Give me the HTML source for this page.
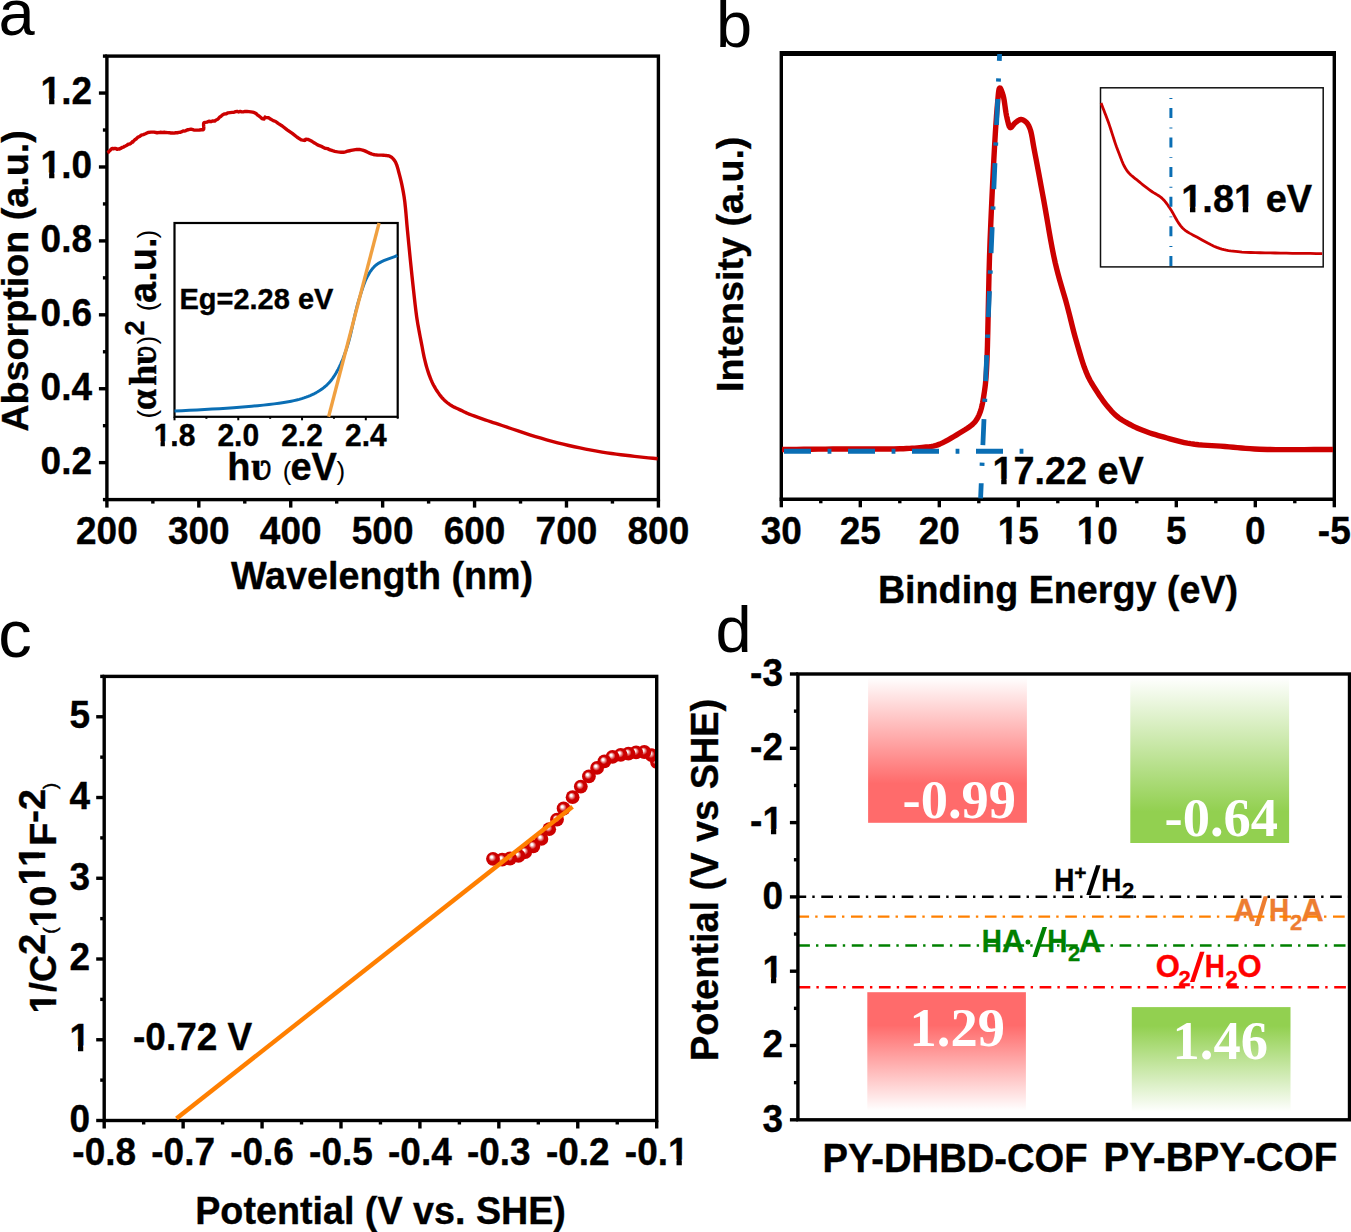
<!DOCTYPE html>
<html><head><meta charset="utf-8"><style>html,body{margin:0;padding:0;background:#fff;overflow:hidden}svg{display:block}</style></head>
<body><svg width="1351" height="1232" viewBox="0 0 1351 1232">
<rect width="1351" height="1232" fill="#fff"/>
<text x="-1.4" y="35" font-size="65" font-weight="normal" text-anchor="start" fill="#000" font-family='"Liberation Sans", sans-serif' >a</text>
<line x1="106.9" y1="499.6" x2="106.9" y2="507.6" stroke="#000" stroke-width="3.4" />
<line x1="152.86" y1="499.6" x2="152.86" y2="503.6" stroke="#000" stroke-width="3.4" />
<line x1="198.82" y1="499.6" x2="198.82" y2="507.6" stroke="#000" stroke-width="3.4" />
<line x1="244.78" y1="499.6" x2="244.78" y2="503.6" stroke="#000" stroke-width="3.4" />
<line x1="290.73" y1="499.6" x2="290.73" y2="507.6" stroke="#000" stroke-width="3.4" />
<line x1="336.69" y1="499.6" x2="336.69" y2="503.6" stroke="#000" stroke-width="3.4" />
<line x1="382.65" y1="499.6" x2="382.65" y2="507.6" stroke="#000" stroke-width="3.4" />
<line x1="428.61" y1="499.6" x2="428.61" y2="503.6" stroke="#000" stroke-width="3.4" />
<line x1="474.57" y1="499.6" x2="474.57" y2="507.6" stroke="#000" stroke-width="3.4" />
<line x1="520.52" y1="499.6" x2="520.52" y2="503.6" stroke="#000" stroke-width="3.4" />
<line x1="566.48" y1="499.6" x2="566.48" y2="507.6" stroke="#000" stroke-width="3.4" />
<line x1="612.44" y1="499.6" x2="612.44" y2="503.6" stroke="#000" stroke-width="3.4" />
<line x1="658.4" y1="499.6" x2="658.4" y2="507.6" stroke="#000" stroke-width="3.4" />
<line x1="102.9" y1="499.6" x2="106.9" y2="499.6" stroke="#000" stroke-width="3.4" />
<line x1="98.9" y1="462.64" x2="106.9" y2="462.64" stroke="#000" stroke-width="3.4" />
<line x1="102.9" y1="425.68" x2="106.9" y2="425.68" stroke="#000" stroke-width="3.4" />
<line x1="98.9" y1="388.73" x2="106.9" y2="388.73" stroke="#000" stroke-width="3.4" />
<line x1="102.9" y1="351.77" x2="106.9" y2="351.77" stroke="#000" stroke-width="3.4" />
<line x1="98.9" y1="314.81" x2="106.9" y2="314.81" stroke="#000" stroke-width="3.4" />
<line x1="102.9" y1="277.85" x2="106.9" y2="277.85" stroke="#000" stroke-width="3.4" />
<line x1="98.9" y1="240.89" x2="106.9" y2="240.89" stroke="#000" stroke-width="3.4" />
<line x1="102.9" y1="203.93" x2="106.9" y2="203.93" stroke="#000" stroke-width="3.4" />
<line x1="98.9" y1="166.98" x2="106.9" y2="166.98" stroke="#000" stroke-width="3.4" />
<line x1="102.9" y1="130.02" x2="106.9" y2="130.02" stroke="#000" stroke-width="3.4" />
<line x1="98.9" y1="93.06" x2="106.9" y2="93.06" stroke="#000" stroke-width="3.4" />
<line x1="102.9" y1="56.1" x2="106.9" y2="56.1" stroke="#000" stroke-width="3.4" />
<rect x="106.9" y="56.1" width="551.5" height="443.5" fill="none" stroke="#000" stroke-width="3.4"/>
<text x="106.9" y="544" font-size="37" font-weight="bold" text-anchor="middle" fill="#000" font-family='"Liberation Sans", sans-serif' transform="matrix(1 0 0 1.045 0 -24.48)" stroke="#000" stroke-width="0.35" >200</text>
<text x="198.82" y="544" font-size="37" font-weight="bold" text-anchor="middle" fill="#000" font-family='"Liberation Sans", sans-serif' transform="matrix(1 0 0 1.045 0 -24.48)" stroke="#000" stroke-width="0.35" >300</text>
<text x="290.73" y="544" font-size="37" font-weight="bold" text-anchor="middle" fill="#000" font-family='"Liberation Sans", sans-serif' transform="matrix(1 0 0 1.045 0 -24.48)" stroke="#000" stroke-width="0.35" >400</text>
<text x="382.65" y="544" font-size="37" font-weight="bold" text-anchor="middle" fill="#000" font-family='"Liberation Sans", sans-serif' transform="matrix(1 0 0 1.045 0 -24.48)" stroke="#000" stroke-width="0.35" >500</text>
<text x="474.57" y="544" font-size="37" font-weight="bold" text-anchor="middle" fill="#000" font-family='"Liberation Sans", sans-serif' transform="matrix(1 0 0 1.045 0 -24.48)" stroke="#000" stroke-width="0.35" >600</text>
<text x="566.48" y="544" font-size="37" font-weight="bold" text-anchor="middle" fill="#000" font-family='"Liberation Sans", sans-serif' transform="matrix(1 0 0 1.045 0 -24.48)" stroke="#000" stroke-width="0.35" >700</text>
<text x="658.4" y="544" font-size="37" font-weight="bold" text-anchor="middle" fill="#000" font-family='"Liberation Sans", sans-serif' transform="matrix(1 0 0 1.045 0 -24.48)" stroke="#000" stroke-width="0.35" >800</text>
<text x="92" y="473.64" font-size="37" font-weight="bold" text-anchor="end" fill="#000" font-family='"Liberation Sans", sans-serif' transform="matrix(1 0 0 1.045 0 -21.31)" stroke="#000" stroke-width="0.35" >0.2</text>
<text x="92" y="399.73" font-size="37" font-weight="bold" text-anchor="end" fill="#000" font-family='"Liberation Sans", sans-serif' transform="matrix(1 0 0 1.045 0 -17.99)" stroke="#000" stroke-width="0.35" >0.4</text>
<text x="92" y="325.81" font-size="37" font-weight="bold" text-anchor="end" fill="#000" font-family='"Liberation Sans", sans-serif' transform="matrix(1 0 0 1.045 0 -14.66)" stroke="#000" stroke-width="0.35" >0.6</text>
<text x="92" y="251.89" font-size="37" font-weight="bold" text-anchor="end" fill="#000" font-family='"Liberation Sans", sans-serif' transform="matrix(1 0 0 1.045 0 -11.34)" stroke="#000" stroke-width="0.35" >0.8</text>
<text x="92" y="177.98" font-size="37" font-weight="bold" text-anchor="end" fill="#000" font-family='"Liberation Sans", sans-serif' transform="matrix(1 0 0 1.045 0 -8.01)" stroke="#000" stroke-width="0.35" >1.0</text>
<text x="92" y="104.06" font-size="37" font-weight="bold" text-anchor="end" fill="#000" font-family='"Liberation Sans", sans-serif' transform="matrix(1 0 0 1.045 0 -4.68)" stroke="#000" stroke-width="0.35" >1.2</text>
<text x="382" y="589.3" font-size="37.7" font-weight="bold" text-anchor="middle" fill="#000" font-family='"Liberation Sans", sans-serif' transform="matrix(1 0 0 1.045 0 -26.52)" stroke="#000" stroke-width="0.35" >Wavelength (nm)</text>
<text transform="translate(28.1 281) rotate(-90)" x="0" y="0" font-size="37.7" font-weight="bold" stroke="#000" stroke-width="0.35" text-anchor="middle" font-family='"Liberation Sans", sans-serif'>Absorption (a.u.)</text>
<path d="M107.4 152.86 L108.18 152.37 L108.93 151.39 L109.68 150.78 L110.46 150.04 L111.29 148.88 L112.2 148.36 L113.29 148.87 L114.5 148.35 L115.77 148.46 L117.05 149.29 L118.28 148.89 L119.4 149.1 L120.26 148.51 L121.05 148.31 L121.81 147.46 L122.56 147.45 L123.35 147.19 L124.2 146.42 L125.44 146.03 L126.82 145.34 L128.26 144.14 L129.65 144.1 L130.93 143.27 L132 142.32 L132.56 141.61 L133 141.89 L133.38 141.07 L133.77 140.81 L134.22 140.45 L134.8 139.79 L136.1 138.97 L137.66 137.36 L139.42 136.56 L141.33 135.11 L143.34 134.56 L145.4 133.74 L148.04 132.45 L150.97 132.16 L154.04 132.09 L157.11 132.75 L160.04 132.32 L162.7 132.51 L164.48 132.26 L166.14 132.56 L167.73 132.6 L169.28 132.7 L170.82 132.99 L172.4 132.98 L174.03 133.15 L175.68 132.78 L177.32 132.77 L178.94 132.43 L180.51 132.26 L182 131.65 L183.16 130.89 L184.23 131.15 L185.26 130.86 L186.31 130.44 L187.44 129.81 L188.7 129.69 L190.97 129.18 L193.69 129.98 L196.57 130.08 L199.32 130.04 L201.62 129.74 L203.2 129.82 L203.7 129.09 L203.8 127.13 L203.69 126.47 L203.58 124.81 L203.65 123.4 L204.1 122.61 L205.28 122.35 L206.94 122.12 L208.9 121.25 L210.96 121.69 L212.96 120.97 L214.7 121.1 L216.08 119.97 L217.34 119.49 L218.53 118.49 L219.73 116.96 L220.99 116.39 L222.4 114.93 L224.16 113.99 L226.07 113.86 L228.07 112.85 L230.1 112.59 L232.1 112.43 L234 112.3 L235.59 111.65 L237.14 111.37 L238.65 111.97 L240.17 111.38 L241.71 111.91 L243.3 111.86 L245.12 111.4 L247.01 111.49 L248.92 111.61 L250.82 111.9 L252.66 112.17 L254.4 112.65 L256.07 113.6 L257.74 115.18 L259.35 116.21 L260.85 117.47 L262.19 118.71 L263.3 118.66 L263.73 118.62 L264.07 118.96 L264.36 118.2 L264.67 117.87 L265.03 117.1 L265.5 117.32 L266.95 117.65 L268.78 117.8 L270.91 119.36 L273.23 120.63 L275.66 121.51 L278.1 123.41 L282.26 125.98 L287.16 129.79 L292.3 133.41 L297.16 137.29 L301.23 139.91 L304 140.27 L304.48 140.2 L304.84 140.48 L305.12 140.39 L305.4 139.4 L305.74 139.3 L306.2 139.28 L307.79 139.34 L309.88 140.31 L312.3 141.61 L314.89 143.19 L317.51 144.87 L320 145.82 L322.46 146.92 L325 148.3 L327.56 148.62 L330.09 149.94 L332.52 150.71 L334.8 151.3 L336.43 151.64 L338.02 151.91 L339.55 152.1 L341.02 152.21 L342.41 152.25 L343.7 152.2 L344.56 152.09 L345.33 151.92 L346.06 151.7 L346.79 151.45 L347.56 151.22 L348.4 151 L349.66 150.72 L351.04 150.4 L352.49 150.09 L353.95 149.82 L355.37 149.61 L356.7 149.5 L357.72 149.48 L358.68 149.5 L359.62 149.56 L360.56 149.68 L361.54 149.86 L362.6 150.1 L364.21 150.63 L365.92 151.39 L367.71 152.26 L369.56 153.14 L371.43 153.92 L373.3 154.5 L375.26 154.84 L377.33 155.03 L379.43 155.11 L381.47 155.16 L383.39 155.23 L385.1 155.4 L386.14 155.54 L387.1 155.65 L388.01 155.78 L388.86 155.95 L389.69 156.21 L390.5 156.6 L391.38 157.17 L392.22 157.86 L393.03 158.65 L393.79 159.54 L394.52 160.53 L395.2 161.6 L396.05 163.26 L396.79 165.14 L397.45 167.2 L398.07 169.4 L398.67 171.71 L399.3 174.1 L400.16 177.42 L401.02 180.97 L401.86 184.71 L402.66 188.62 L403.41 192.66 L404.1 196.8 L404.82 202.01 L405.41 207.46 L405.94 213.11 L406.43 218.92 L406.94 224.86 L407.5 230.9 L408.21 238.08 L408.94 245.55 L409.68 253.19 L410.44 260.9 L411.22 268.54 L412 276 L412.77 283.21 L413.58 290.67 L414.39 298.06 L415.2 305.11 L415.97 311.52 L416.7 317 L417.08 319.58 L417.44 321.85 L417.79 323.91 L418.15 325.88 L418.51 327.88 L418.9 330 L419.34 332.39 L419.79 334.81 L420.26 337.25 L420.74 339.7 L421.22 342.16 L421.7 344.6 L422.17 347.04 L422.62 349.5 L423.08 351.95 L423.56 354.4 L424.06 356.82 L424.6 359.2 L425.15 361.46 L425.73 363.71 L426.33 365.94 L426.95 368.13 L427.61 370.29 L428.3 372.4 L428.97 374.32 L429.65 376.22 L430.37 378.08 L431.11 379.9 L431.89 381.68 L432.7 383.4 L433.48 384.94 L434.29 386.44 L435.13 387.91 L435.99 389.34 L436.88 390.73 L437.8 392.1 L438.7 393.39 L439.61 394.66 L440.55 395.9 L441.53 397.11 L442.54 398.28 L443.6 399.4 L444.71 400.48 L445.85 401.52 L447.04 402.52 L448.27 403.48 L449.56 404.4 L450.9 405.3 L452.5 406.25 L454.21 407.15 L455.98 408 L457.77 408.82 L459.53 409.62 L461.2 410.4 L462.55 411.05 L463.83 411.67 L465.08 412.27 L466.35 412.87 L467.71 413.47 L469.2 414.1 L471.51 415.01 L474.03 415.96 L476.71 416.92 L479.48 417.89 L482.26 418.85 L485 419.8 L487.74 420.74 L490.43 421.65 L493.15 422.55 L495.95 423.47 L498.91 424.44 L502.1 425.5 L507.02 427.16 L512.4 429.01 L518.09 430.95 L523.94 432.92 L529.79 434.83 L535.5 436.6 L541.03 438.23 L546.57 439.8 L552.12 441.32 L557.67 442.78 L563.23 444.17 L568.8 445.5 L574.37 446.76 L579.98 447.96 L585.61 449.1 L591.2 450.18 L596.71 451.18 L602.1 452.1 L606.88 452.85 L611.58 453.52 L616.2 454.13 L620.79 454.7 L625.38 455.25 L630 455.8 L634.61 456.34 L639.21 456.85 L643.81 457.34 L648.4 457.82 L653 458.31 L657.6 458.8" fill="none" stroke="#cc0000" stroke-width="3.4" stroke-linejoin="round"/>
<line x1="174.5" y1="416.8" x2="174.5" y2="420.3" stroke="#000" stroke-width="2" />
<line x1="206.39" y1="416.8" x2="206.39" y2="418.8" stroke="#000" stroke-width="2" />
<line x1="238.27" y1="416.8" x2="238.27" y2="420.3" stroke="#000" stroke-width="2" />
<line x1="270.16" y1="416.8" x2="270.16" y2="418.8" stroke="#000" stroke-width="2" />
<line x1="302.04" y1="416.8" x2="302.04" y2="420.3" stroke="#000" stroke-width="2" />
<line x1="333.93" y1="416.8" x2="333.93" y2="418.8" stroke="#000" stroke-width="2" />
<line x1="365.81" y1="416.8" x2="365.81" y2="420.3" stroke="#000" stroke-width="2" />
<line x1="397.7" y1="416.8" x2="397.7" y2="418.8" stroke="#000" stroke-width="2" />
<rect x="174.5" y="223" width="223.2" height="193.8" fill="#fff" stroke="#000" stroke-width="2.2"/>
<text x="174.5" y="446" font-size="30" font-weight="bold" text-anchor="middle" fill="#000" font-family='"Liberation Sans", sans-serif' transform="matrix(1 0 0 1.045 0 -20.07)" stroke="#000" stroke-width="0.35" >1.8</text>
<text x="238.27" y="446" font-size="30" font-weight="bold" text-anchor="middle" fill="#000" font-family='"Liberation Sans", sans-serif' transform="matrix(1 0 0 1.045 0 -20.07)" stroke="#000" stroke-width="0.35" >2.0</text>
<text x="302.04" y="446" font-size="30" font-weight="bold" text-anchor="middle" fill="#000" font-family='"Liberation Sans", sans-serif' transform="matrix(1 0 0 1.045 0 -20.07)" stroke="#000" stroke-width="0.35" >2.2</text>
<text x="365.81" y="446" font-size="30" font-weight="bold" text-anchor="middle" fill="#000" font-family='"Liberation Sans", sans-serif' transform="matrix(1 0 0 1.045 0 -20.07)" stroke="#000" stroke-width="0.35" >2.4</text>
<path d="M174.5 411.1 L181.94 410.69 L189.46 410.29 L197.01 409.91 L204.54 409.51 L212.01 409.11 L219.38 408.68 L226.59 408.21 L233.6 407.7 L239.67 407.22 L245.74 406.73 L251.76 406.22 L257.66 405.68 L263.39 405.12 L268.9 404.52 L274.12 403.88 L279 403.2 L282.27 402.7 L285.37 402.21 L288.34 401.71 L291.19 401.19 L293.95 400.63 L296.62 400.03 L299.23 399.35 L301.8 398.6 L303.98 397.9 L306.1 397.16 L308.18 396.38 L310.19 395.57 L312.16 394.7 L314.06 393.79 L315.91 392.82 L317.7 391.8 L319.29 390.82 L320.83 389.8 L322.32 388.75 L323.76 387.65 L325.16 386.5 L326.51 385.29 L327.83 384.03 L329.1 382.7 L330.39 381.23 L331.63 379.69 L332.8 378.09 L333.93 376.43 L335.03 374.71 L336.1 372.91 L337.15 371.04 L338.2 369.1 L339.45 366.64 L340.65 364.09 L341.81 361.45 L342.94 358.7 L344.04 355.83 L345.13 352.83 L346.22 349.69 L347.3 346.4 L348.78 341.4 L350.21 335.84 L351.61 329.92 L352.99 323.79 L354.36 317.65 L355.75 311.67 L357.16 306.03 L358.6 300.9 L359.69 297.32 L360.75 293.83 L361.81 290.46 L362.89 287.21 L364 284.12 L365.16 281.19 L366.38 278.44 L367.7 275.9 L368.7 274.16 L369.68 272.54 L370.67 271.02 L371.71 269.59 L372.81 268.24 L374.01 266.95 L375.33 265.71 L376.8 264.5 L378.87 263.1 L381.21 261.85 L383.74 260.71 L386.41 259.65 L389.16 258.63 L391.94 257.62 L394.67 256.59 L397.3 255.5" fill="none" stroke="#0a6eb4" stroke-width="3" stroke-linejoin="round"/>
<line x1="328.6" y1="416.8" x2="379.1" y2="223" stroke="#f0a040" stroke-width="3.4" />
<text x="179.5" y="308.9" font-size="29" font-weight="bold" text-anchor="start" fill="#000" font-family='"Liberation Sans", sans-serif' transform="matrix(1 0 0 1.045 0 -13.9)" stroke="#000" stroke-width="0.35" >Eg=2.28 eV</text>
<text y="479.6" font-size="38" font-weight="bold" stroke="#000" stroke-width="0.35" font-family='"Liberation Sans", sans-serif'><tspan x="227.3">h</tspan><tspan x="251" font-family='"Liberation Serif", serif' font-size="40">&#x28b;</tspan><tspan x="282.7" font-weight="normal" stroke-width="0" font-size="26">(</tspan><tspan x="290.4">eV</tspan><tspan x="336.6" font-weight="normal" stroke-width="0" font-size="26">)</tspan></text>
<text transform="translate(156 417.5) rotate(-90)" y="0" font-size="38" font-weight="bold" stroke="#000" stroke-width="0.35" font-family='"Liberation Sans", sans-serif'><tspan x="-1" font-weight="normal" stroke-width="0" font-size="26">(</tspan><tspan x="7.3" font-family='"Liberation Serif", serif'>&#945;</tspan><tspan x="31.7" font-family='"Liberation Serif", serif'>h</tspan><tspan x="52.2" font-family='"Liberation Serif", serif'>&#x28b;</tspan><tspan x="73.1" font-weight="normal" stroke-width="0" font-size="26">)</tspan><tspan x="81.9" dy="-12.1" font-size="27">2</tspan><tspan x="106.2" dy="12.1" font-weight="normal" stroke-width="0" font-size="26">(</tspan><tspan x="114.5">a.u.</tspan><tspan x="178.9" font-weight="normal" stroke-width="0" font-size="26">)</tspan></text>
<text x="715.9" y="46.9" font-size="65" font-weight="normal" text-anchor="start" fill="#000" font-family='"Liberation Sans", sans-serif' >b</text>
<line x1="781.3" y1="499.3" x2="781.3" y2="507.3" stroke="#000" stroke-width="3.4" />
<line x1="820.8" y1="499.3" x2="820.8" y2="503.3" stroke="#000" stroke-width="3.4" />
<line x1="860.3" y1="499.3" x2="860.3" y2="507.3" stroke="#000" stroke-width="3.4" />
<line x1="899.8" y1="499.3" x2="899.8" y2="503.3" stroke="#000" stroke-width="3.4" />
<line x1="939.3" y1="499.3" x2="939.3" y2="507.3" stroke="#000" stroke-width="3.4" />
<line x1="978.8" y1="499.3" x2="978.8" y2="503.3" stroke="#000" stroke-width="3.4" />
<line x1="1018.3" y1="499.3" x2="1018.3" y2="507.3" stroke="#000" stroke-width="3.4" />
<line x1="1057.8" y1="499.3" x2="1057.8" y2="503.3" stroke="#000" stroke-width="3.4" />
<line x1="1097.3" y1="499.3" x2="1097.3" y2="507.3" stroke="#000" stroke-width="3.4" />
<line x1="1136.8" y1="499.3" x2="1136.8" y2="503.3" stroke="#000" stroke-width="3.4" />
<line x1="1176.3" y1="499.3" x2="1176.3" y2="507.3" stroke="#000" stroke-width="3.4" />
<line x1="1215.8" y1="499.3" x2="1215.8" y2="503.3" stroke="#000" stroke-width="3.4" />
<line x1="1255.3" y1="499.3" x2="1255.3" y2="507.3" stroke="#000" stroke-width="3.4" />
<line x1="1294.8" y1="499.3" x2="1294.8" y2="503.3" stroke="#000" stroke-width="3.4" />
<line x1="1334.3" y1="499.3" x2="1334.3" y2="507.3" stroke="#000" stroke-width="3.4" />
<line x1="781.3" y1="53.5" x2="1334.3" y2="53.5" stroke="#000" stroke-width="5.2" />
<line x1="781.3" y1="50.9" x2="781.3" y2="499.3" stroke="#000" stroke-width="3.4" />
<line x1="1334.3" y1="50.9" x2="1334.3" y2="501" stroke="#000" stroke-width="3.4" />
<line x1="779.6" y1="499.3" x2="1336" y2="499.3" stroke="#000" stroke-width="3.4" />
<text x="781.3" y="544" font-size="37" font-weight="bold" text-anchor="middle" fill="#000" font-family='"Liberation Sans", sans-serif' transform="matrix(1 0 0 1.045 0 -24.48)" stroke="#000" stroke-width="0.35" >30</text>
<text x="860.3" y="544" font-size="37" font-weight="bold" text-anchor="middle" fill="#000" font-family='"Liberation Sans", sans-serif' transform="matrix(1 0 0 1.045 0 -24.48)" stroke="#000" stroke-width="0.35" >25</text>
<text x="939.3" y="544" font-size="37" font-weight="bold" text-anchor="middle" fill="#000" font-family='"Liberation Sans", sans-serif' transform="matrix(1 0 0 1.045 0 -24.48)" stroke="#000" stroke-width="0.35" >20</text>
<text x="1018.3" y="544" font-size="37" font-weight="bold" text-anchor="middle" fill="#000" font-family='"Liberation Sans", sans-serif' transform="matrix(1 0 0 1.045 0 -24.48)" stroke="#000" stroke-width="0.35" >15</text>
<text x="1097.3" y="544" font-size="37" font-weight="bold" text-anchor="middle" fill="#000" font-family='"Liberation Sans", sans-serif' transform="matrix(1 0 0 1.045 0 -24.48)" stroke="#000" stroke-width="0.35" >10</text>
<text x="1176.3" y="544" font-size="37" font-weight="bold" text-anchor="middle" fill="#000" font-family='"Liberation Sans", sans-serif' transform="matrix(1 0 0 1.045 0 -24.48)" stroke="#000" stroke-width="0.35" >5</text>
<text x="1255.3" y="544" font-size="37" font-weight="bold" text-anchor="middle" fill="#000" font-family='"Liberation Sans", sans-serif' transform="matrix(1 0 0 1.045 0 -24.48)" stroke="#000" stroke-width="0.35" >0</text>
<text x="1334.3" y="544" font-size="37" font-weight="bold" text-anchor="middle" fill="#000" font-family='"Liberation Sans", sans-serif' transform="matrix(1 0 0 1.045 0 -24.48)" stroke="#000" stroke-width="0.35" >-5</text>
<text x="1058" y="602.5" font-size="37.7" font-weight="bold" text-anchor="middle" fill="#000" font-family='"Liberation Sans", sans-serif' transform="matrix(1 0 0 1.045 0 -27.11)" stroke="#000" stroke-width="0.35" >Binding Energy (eV)</text>
<text transform="translate(742.9 264.3) rotate(-90)" x="0" y="0" font-size="37.7" font-weight="bold" stroke="#000" stroke-width="0.35" text-anchor="middle" font-family='"Liberation Sans", sans-serif'>Intensity (a.u.)</text>
<path d="M782 449.5 L789.24 449.44 L796.48 449.37 L803.71 449.3 L810.94 449.23 L818.18 449.17 L825.43 449.1 L832.7 449.05 L840 449 L847.65 448.98 L855.61 448.99 L863.71 449.02 L871.77 449.04 L879.6 449.05 L887.03 449.03 L893.89 448.95 L900 448.8 L903.33 448.68 L906.42 448.55 L909.32 448.41 L912.06 448.26 L914.69 448.08 L917.23 447.88 L919.72 447.66 L922.2 447.4 L924.18 447.2 L926.07 447.04 L927.89 446.87 L929.67 446.69 L931.44 446.44 L933.23 446.12 L935.07 445.68 L937 445.1 L939.65 444.1 L942.43 442.86 L945.3 441.43 L948.21 439.85 L951.1 438.2 L953.93 436.52 L956.65 434.87 L959.2 433.3 L961.28 432.03 L963.35 430.78 L965.38 429.54 L967.34 428.28 L969.21 427 L970.96 425.69 L972.57 424.32 L974 422.9 L975.02 421.72 L975.93 420.55 L976.75 419.36 L977.48 418.14 L978.16 416.87 L978.79 415.53 L979.4 414.12 L980 412.6 L980.76 410.39 L981.44 407.98 L982.05 405.42 L982.6 402.75 L983.1 400 L983.56 397.24 L983.99 394.49 L984.4 391.8 L984.78 389.23 L985.1 386.83 L985.38 384.48 L985.62 382.09 L985.84 379.55 L986.06 376.76 L986.27 373.61 L986.5 370 L987.03 358.98 L987.47 345.22 L987.85 329.34 L988.21 311.96 L988.59 293.72 L989 275.22 L989.5 257.11 L990.1 240 L990.84 222.37 L991.69 203.41 L992.61 183.91 L993.57 164.63 L994.56 146.33 L995.55 129.78 L996.5 115.75 L997.4 105 L997.69 101.85 L997.94 98.8 L998.18 95.93 L998.43 93.36 L998.7 91.17 L999 89.46 L999.37 88.34 L999.8 87.9 L1000.14 88.04 L1000.53 88.52 L1000.94 89.27 L1001.36 90.23 L1001.79 91.35 L1002.22 92.56 L1002.62 93.79 L1003 95 L1003.58 97.29 L1004.11 100.03 L1004.58 103.07 L1005.04 106.28 L1005.49 109.52 L1005.95 112.64 L1006.45 115.51 L1007 118 L1007.38 119.54 L1007.75 121.14 L1008.12 122.72 L1008.5 124.21 L1008.91 125.53 L1009.35 126.6 L1009.85 127.35 L1010.4 127.7 L1010.89 127.63 L1011.41 127.27 L1011.95 126.69 L1012.52 125.96 L1013.12 125.16 L1013.73 124.35 L1014.36 123.6 L1015 123 L1015.68 122.45 L1016.4 121.88 L1017.14 121.3 L1017.89 120.76 L1018.66 120.28 L1019.42 119.88 L1020.17 119.62 L1020.9 119.5 L1021.56 119.53 L1022.23 119.68 L1022.9 119.91 L1023.57 120.23 L1024.22 120.61 L1024.84 121.04 L1025.44 121.51 L1026 122 L1026.6 122.6 L1027.15 123.25 L1027.66 123.95 L1028.14 124.72 L1028.6 125.56 L1029.04 126.46 L1029.47 127.44 L1029.9 128.5 L1030.58 130.5 L1031.17 132.74 L1031.7 135.21 L1032.19 137.87 L1032.67 140.71 L1033.17 143.69 L1033.7 146.8 L1034.3 150 L1035.3 155.17 L1036.38 160.79 L1037.51 166.79 L1038.69 173.08 L1039.9 179.58 L1041.13 186.21 L1042.37 192.87 L1043.6 199.5 L1044.98 207.17 L1046.37 215.17 L1047.77 223.39 L1049.19 231.69 L1050.65 239.94 L1052.14 248.03 L1053.69 255.83 L1055.3 263.2 L1056.7 268.97 L1058.16 274.54 L1059.67 279.96 L1061.2 285.24 L1062.74 290.42 L1064.24 295.52 L1065.71 300.57 L1067.1 305.6 L1068.27 310.07 L1069.38 314.45 L1070.46 318.76 L1071.51 323.02 L1072.57 327.25 L1073.65 331.48 L1074.79 335.72 L1076 340 L1077.29 344.45 L1078.6 349.02 L1079.95 353.63 L1081.33 358.22 L1082.76 362.71 L1084.24 367.05 L1085.79 371.17 L1087.4 375 L1088.72 377.79 L1090.11 380.45 L1091.53 382.99 L1092.99 385.43 L1094.46 387.77 L1095.93 390.04 L1097.38 392.25 L1098.8 394.4 L1099.96 396.15 L1101.1 397.83 L1102.23 399.47 L1103.37 401.05 L1104.5 402.59 L1105.65 404.09 L1106.81 405.56 L1108 407 L1109.1 408.3 L1110.19 409.56 L1111.28 410.8 L1112.39 412 L1113.52 413.17 L1114.69 414.31 L1115.92 415.42 L1117.2 416.5 L1118.64 417.62 L1120.15 418.69 L1121.71 419.73 L1123.32 420.74 L1124.96 421.71 L1126.63 422.66 L1128.31 423.59 L1130 424.5 L1131.74 425.41 L1133.49 426.29 L1135.25 427.13 L1137.04 427.95 L1138.87 428.76 L1140.75 429.55 L1142.69 430.32 L1144.7 431.1 L1147.24 432.03 L1149.9 432.94 L1152.66 433.83 L1155.48 434.7 L1158.36 435.56 L1161.25 436.39 L1164.14 437.21 L1167 438 L1169.88 438.8 L1172.73 439.59 L1175.58 440.37 L1178.45 441.13 L1181.36 441.85 L1184.34 442.52 L1187.41 443.14 L1190.6 443.7 L1194.57 444.26 L1198.72 444.71 L1203 445.07 L1207.37 445.38 L1211.8 445.65 L1216.24 445.91 L1220.65 446.18 L1225 446.5 L1229.22 446.86 L1233.32 447.23 L1237.36 447.61 L1241.44 447.98 L1245.61 448.34 L1249.96 448.67 L1254.57 448.96 L1259.5 449.2 L1267.37 449.44 L1275.94 449.58 L1285.05 449.63 L1294.53 449.62 L1304.23 449.58 L1313.98 449.53 L1323.62 449.49 L1333 449.5" fill="none" stroke="#cc0000" stroke-width="5.4" stroke-linejoin="round"/>
<line x1="784" y1="451.2" x2="1024" y2="451.2" stroke="#0a6eb4" stroke-width="5" stroke-dasharray="27 16.6 3.8 16.6"/>
<line x1="980.6" y1="498.4" x2="999.6" y2="54" stroke="#0a6eb4" stroke-width="4.8" stroke-dasharray="26 17.4 3.3 17.4" stroke-dashoffset="10.84"/>
<text x="992.5" y="484.4" font-size="37.8" font-weight="bold" text-anchor="start" fill="#000" font-family='"Liberation Sans", sans-serif' transform="matrix(1 0 0 1.045 0 -21.8)" stroke="#000" stroke-width="0.35" >17.22 eV</text>
<rect x="1100.5" y="87.8" width="222.7" height="179.1" fill="#fff" stroke="#111" stroke-width="1.5"/>
<path d="M1101.1 103.1 L1102.02 105.51 L1102.94 107.89 L1103.86 110.26 L1104.77 112.63 L1105.69 115.03 L1106.62 117.47 L1107.55 119.99 L1108.5 122.6 L1109.63 125.85 L1110.75 129.28 L1111.89 132.83 L1113.03 136.43 L1114.19 140.04 L1115.37 143.59 L1116.57 147.03 L1117.8 150.3 L1118.87 153.08 L1119.92 155.86 L1120.97 158.6 L1122.04 161.27 L1123.16 163.85 L1124.34 166.3 L1125.62 168.59 L1127 170.7 L1128.23 172.26 L1129.52 173.68 L1130.87 174.98 L1132.27 176.2 L1133.7 177.37 L1135.16 178.53 L1136.63 179.69 L1138.1 180.9 L1139.66 182.2 L1141.27 183.51 L1142.9 184.82 L1144.55 186.11 L1146.21 187.38 L1147.87 188.63 L1149.5 189.84 L1151.1 191 L1152.54 191.98 L1153.99 192.9 L1155.45 193.78 L1156.9 194.64 L1158.31 195.51 L1159.67 196.41 L1160.98 197.37 L1162.2 198.4 L1163.26 199.43 L1164.23 200.47 L1165.13 201.54 L1166 202.65 L1166.86 203.81 L1167.72 205.03 L1168.63 206.33 L1169.6 207.7 L1171.05 209.91 L1172.52 212.43 L1174.02 215.15 L1175.57 217.96 L1177.19 220.77 L1178.87 223.44 L1180.64 225.89 L1182.5 228 L1184.16 229.51 L1185.87 230.84 L1187.64 232.03 L1189.46 233.11 L1191.34 234.14 L1193.27 235.15 L1195.26 236.19 L1197.3 237.3 L1199.84 238.74 L1202.52 240.26 L1205.31 241.8 L1208.15 243.34 L1211.03 244.81 L1213.9 246.17 L1216.74 247.39 L1219.5 248.4 L1221.8 249.11 L1224.03 249.69 L1226.21 250.16 L1228.39 250.54 L1230.62 250.87 L1232.93 251.15 L1235.38 251.42 L1238 251.7 L1241.98 252.05 L1246.24 252.32 L1250.73 252.5 L1255.41 252.64 L1260.23 252.74 L1265.13 252.82 L1270.07 252.9 L1275 253 L1280.62 253.12 L1286.4 253.21 L1292.28 253.29 L1298.24 253.36 L1304.25 253.42 L1310.27 253.47 L1316.26 253.53 L1322.2 253.6" fill="none" stroke="#cc0000" stroke-width="2.8" stroke-linejoin="round"/>
<line x1="1170.9" y1="98" x2="1170.9" y2="266" stroke="#0a6eb4" stroke-width="3" stroke-dasharray="0.9 9 10 9.7"/>
<text x="1181.2" y="212.3" font-size="38" font-weight="bold" text-anchor="start" fill="#000" font-family='"Liberation Sans", sans-serif' transform="matrix(1 0 0 1.045 0 -9.55)" stroke="#000" stroke-width="0.35" >1.81 eV</text>
<text x="-1.7" y="657" font-size="67" font-weight="normal" text-anchor="start" fill="#000" font-family='"Liberation Sans", sans-serif' >c</text>
<line x1="104.2" y1="1120.5" x2="104.2" y2="1128.5" stroke="#000" stroke-width="3.4" />
<line x1="143.66" y1="1120.5" x2="143.66" y2="1124.5" stroke="#000" stroke-width="3.4" />
<line x1="183.13" y1="1120.5" x2="183.13" y2="1128.5" stroke="#000" stroke-width="3.4" />
<line x1="222.59" y1="1120.5" x2="222.59" y2="1124.5" stroke="#000" stroke-width="3.4" />
<line x1="262.06" y1="1120.5" x2="262.06" y2="1128.5" stroke="#000" stroke-width="3.4" />
<line x1="301.52" y1="1120.5" x2="301.52" y2="1124.5" stroke="#000" stroke-width="3.4" />
<line x1="340.99" y1="1120.5" x2="340.99" y2="1128.5" stroke="#000" stroke-width="3.4" />
<line x1="380.45" y1="1120.5" x2="380.45" y2="1124.5" stroke="#000" stroke-width="3.4" />
<line x1="419.91" y1="1120.5" x2="419.91" y2="1128.5" stroke="#000" stroke-width="3.4" />
<line x1="459.38" y1="1120.5" x2="459.38" y2="1124.5" stroke="#000" stroke-width="3.4" />
<line x1="498.84" y1="1120.5" x2="498.84" y2="1128.5" stroke="#000" stroke-width="3.4" />
<line x1="538.31" y1="1120.5" x2="538.31" y2="1124.5" stroke="#000" stroke-width="3.4" />
<line x1="577.77" y1="1120.5" x2="577.77" y2="1128.5" stroke="#000" stroke-width="3.4" />
<line x1="617.24" y1="1120.5" x2="617.24" y2="1124.5" stroke="#000" stroke-width="3.4" />
<line x1="656.7" y1="1120.5" x2="656.7" y2="1128.5" stroke="#000" stroke-width="3.4" />
<line x1="96.2" y1="1120.5" x2="104.2" y2="1120.5" stroke="#000" stroke-width="3.4" />
<line x1="100.2" y1="1080.13" x2="104.2" y2="1080.13" stroke="#000" stroke-width="3.4" />
<line x1="96.2" y1="1039.75" x2="104.2" y2="1039.75" stroke="#000" stroke-width="3.4" />
<line x1="100.2" y1="999.38" x2="104.2" y2="999.38" stroke="#000" stroke-width="3.4" />
<line x1="96.2" y1="959.01" x2="104.2" y2="959.01" stroke="#000" stroke-width="3.4" />
<line x1="100.2" y1="918.64" x2="104.2" y2="918.64" stroke="#000" stroke-width="3.4" />
<line x1="96.2" y1="878.26" x2="104.2" y2="878.26" stroke="#000" stroke-width="3.4" />
<line x1="100.2" y1="837.89" x2="104.2" y2="837.89" stroke="#000" stroke-width="3.4" />
<line x1="96.2" y1="797.52" x2="104.2" y2="797.52" stroke="#000" stroke-width="3.4" />
<line x1="100.2" y1="757.15" x2="104.2" y2="757.15" stroke="#000" stroke-width="3.4" />
<line x1="96.2" y1="716.77" x2="104.2" y2="716.77" stroke="#000" stroke-width="3.4" />
<line x1="100.2" y1="676.4" x2="104.2" y2="676.4" stroke="#000" stroke-width="3.4" />
<rect x="104.2" y="676.4" width="552.5" height="444.1" fill="none" stroke="#000" stroke-width="3.4"/>
<text x="104.2" y="1165" font-size="37" font-weight="bold" text-anchor="middle" fill="#000" font-family='"Liberation Sans", sans-serif' transform="matrix(1 0 0 1.045 0 -52.42)" stroke="#000" stroke-width="0.35" >-0.8</text>
<text x="183.13" y="1165" font-size="37" font-weight="bold" text-anchor="middle" fill="#000" font-family='"Liberation Sans", sans-serif' transform="matrix(1 0 0 1.045 0 -52.42)" stroke="#000" stroke-width="0.35" >-0.7</text>
<text x="262.06" y="1165" font-size="37" font-weight="bold" text-anchor="middle" fill="#000" font-family='"Liberation Sans", sans-serif' transform="matrix(1 0 0 1.045 0 -52.42)" stroke="#000" stroke-width="0.35" >-0.6</text>
<text x="340.99" y="1165" font-size="37" font-weight="bold" text-anchor="middle" fill="#000" font-family='"Liberation Sans", sans-serif' transform="matrix(1 0 0 1.045 0 -52.42)" stroke="#000" stroke-width="0.35" >-0.5</text>
<text x="419.91" y="1165" font-size="37" font-weight="bold" text-anchor="middle" fill="#000" font-family='"Liberation Sans", sans-serif' transform="matrix(1 0 0 1.045 0 -52.42)" stroke="#000" stroke-width="0.35" >-0.4</text>
<text x="498.84" y="1165" font-size="37" font-weight="bold" text-anchor="middle" fill="#000" font-family='"Liberation Sans", sans-serif' transform="matrix(1 0 0 1.045 0 -52.42)" stroke="#000" stroke-width="0.35" >-0.3</text>
<text x="577.77" y="1165" font-size="37" font-weight="bold" text-anchor="middle" fill="#000" font-family='"Liberation Sans", sans-serif' transform="matrix(1 0 0 1.045 0 -52.42)" stroke="#000" stroke-width="0.35" >-0.2</text>
<text x="656.7" y="1165" font-size="37" font-weight="bold" text-anchor="middle" fill="#000" font-family='"Liberation Sans", sans-serif' transform="matrix(1 0 0 1.045 0 -52.42)" stroke="#000" stroke-width="0.35" >-0.1</text>
<text x="90" y="1131.8" font-size="37" font-weight="bold" text-anchor="end" fill="#000" font-family='"Liberation Sans", sans-serif' transform="matrix(1 0 0 1.045 0 -50.93)" stroke="#000" stroke-width="0.35" >0</text>
<text x="90" y="1051.05" font-size="37" font-weight="bold" text-anchor="end" fill="#000" font-family='"Liberation Sans", sans-serif' transform="matrix(1 0 0 1.045 0 -47.3)" stroke="#000" stroke-width="0.35" >1</text>
<text x="90" y="970.31" font-size="37" font-weight="bold" text-anchor="end" fill="#000" font-family='"Liberation Sans", sans-serif' transform="matrix(1 0 0 1.045 0 -43.66)" stroke="#000" stroke-width="0.35" >2</text>
<text x="90" y="889.56" font-size="37" font-weight="bold" text-anchor="end" fill="#000" font-family='"Liberation Sans", sans-serif' transform="matrix(1 0 0 1.045 0 -40.03)" stroke="#000" stroke-width="0.35" >3</text>
<text x="90" y="808.82" font-size="37" font-weight="bold" text-anchor="end" fill="#000" font-family='"Liberation Sans", sans-serif' transform="matrix(1 0 0 1.045 0 -36.4)" stroke="#000" stroke-width="0.35" >4</text>
<text x="90" y="728.07" font-size="37" font-weight="bold" text-anchor="end" fill="#000" font-family='"Liberation Sans", sans-serif' transform="matrix(1 0 0 1.045 0 -32.76)" stroke="#000" stroke-width="0.35" >5</text>
<text x="380.6" y="1224.3" font-size="37.7" font-weight="bold" text-anchor="middle" fill="#000" font-family='"Liberation Sans", sans-serif' transform="matrix(1 0 0 1.045 0 -55.09)" stroke="#000" stroke-width="0.35" >Potential (V vs. SHE)</text>
<text x="133" y="1050" font-size="37" font-weight="bold" text-anchor="start" fill="#000" font-family='"Liberation Sans", sans-serif' transform="matrix(1 0 0 1.045 0 -47.25)" stroke="#000" stroke-width="0.35" >-0.72 V</text>
<text transform="translate(56.1 1013.4) rotate(-90)" x="0" y="0" font-size="37.7" font-weight="bold" stroke="#000" stroke-width="0.35" font-family='"Liberation Sans", sans-serif'>1/C<tspan dy="-11.6">2</tspan><tspan dy="11.6" font-size="19" font-weight="normal" stroke-width="0.5">(</tspan>10<tspan dy="-11.6">11</tspan><tspan dy="11.6">F</tspan><tspan dy="-11.6">-2</tspan><tspan dy="11.6" font-size="19" font-weight="normal" stroke-width="0.5">)</tspan></text>
<defs><clipPath id="cclip"><rect x="105.9" y="678.1" width="549.1" height="440.70000000000005"/></clipPath><radialGradient id="ball" cx="0.5" cy="0.5" r="0.5" fx="0.38" fy="0.35"><stop offset="0" stop-color="#fff"/><stop offset="0.14" stop-color="#fff"/><stop offset="0.55" stop-color="#cc0000"/><stop offset="1" stop-color="#cc0000"/></radialGradient></defs>
<g clip-path="url(#cclip)"><circle cx="657" cy="762" r="6.9" fill="url(#ball)"/><circle cx="651.6" cy="755.2" r="6.9" fill="url(#ball)"/><circle cx="644.3" cy="752" r="6.9" fill="url(#ball)"/><circle cx="636.1" cy="752.4" r="6.9" fill="url(#ball)"/><circle cx="628.4" cy="753.6" r="6.9" fill="url(#ball)"/><circle cx="620.7" cy="754.8" r="6.9" fill="url(#ball)"/><circle cx="612.5" cy="756.9" r="6.9" fill="url(#ball)"/><circle cx="604.4" cy="761.4" r="6.9" fill="url(#ball)"/><circle cx="597.1" cy="767.9" r="6.9" fill="url(#ball)"/><circle cx="588.9" cy="776.4" r="6.9" fill="url(#ball)"/><circle cx="580.8" cy="786.6" r="6.9" fill="url(#ball)"/><circle cx="572.6" cy="797.2" r="6.9" fill="url(#ball)"/><circle cx="563.6" cy="808.5" r="6.9" fill="url(#ball)"/><circle cx="557" cy="819.6" r="6.9" fill="url(#ball)"/><circle cx="549.2" cy="829.2" r="6.9" fill="url(#ball)"/><circle cx="541.4" cy="838.9" r="6.9" fill="url(#ball)"/><circle cx="533.3" cy="846.3" r="6.9" fill="url(#ball)"/><circle cx="525.2" cy="852.2" r="6.9" fill="url(#ball)"/><circle cx="518.5" cy="855.9" r="6.9" fill="url(#ball)"/><circle cx="510" cy="858.5" r="6.9" fill="url(#ball)"/><circle cx="502.2" cy="859.6" r="6.9" fill="url(#ball)"/><circle cx="493" cy="858.8" r="6.9" fill="url(#ball)"/></g>
<line x1="176.5" y1="1118.5" x2="572.5" y2="806.7" stroke="#ff7f00" stroke-width="4.4" />
<text x="715.5" y="652" font-size="65" font-weight="normal" text-anchor="start" fill="#000" font-family='"Liberation Sans", sans-serif' >d</text>
<defs><linearGradient id="rt" x1="0" y1="0" x2="0" y2="1"><stop offset="0" stop-color="#fff"/><stop offset="0.73" stop-color="#ff6b6b"/><stop offset="1" stop-color="#ff6b6b"/></linearGradient><linearGradient id="gt" x1="0" y1="0" x2="0" y2="1"><stop offset="0" stop-color="#fff"/><stop offset="0.81" stop-color="#92d050"/><stop offset="1" stop-color="#92d050"/></linearGradient><linearGradient id="rb" x1="0" y1="0" x2="0" y2="1"><stop offset="0" stop-color="#ff6b6b"/><stop offset="0.28" stop-color="#ff6b6b"/><stop offset="1" stop-color="#fff"/></linearGradient><linearGradient id="gb" x1="0" y1="0" x2="0" y2="1"><stop offset="0" stop-color="#92d050"/><stop offset="0.18" stop-color="#92d050"/><stop offset="1" stop-color="#fff"/></linearGradient></defs>
<rect x="868.1" y="677" width="158.8" height="145.8" fill="url(#rt)"/>
<rect x="1130.3" y="677" width="158.8" height="166" fill="url(#gt)"/>
<rect x="867.3" y="992.2" width="158.6" height="118.4" fill="url(#rb)"/>
<rect x="1131.8" y="1007.1" width="158.7" height="104.9" fill="url(#gb)"/>
<text x="902.5" y="818.4" font-size="54.5" font-weight="bold" text-anchor="start" fill="#fff" font-family='"Liberation Serif", serif' >-0.99</text>
<text x="1164.5" y="835.8" font-size="54.5" font-weight="bold" text-anchor="start" fill="#fff" font-family='"Liberation Serif", serif' >-0.64</text>
<text x="909.5" y="1046.2" font-size="54.5" font-weight="bold" text-anchor="start" fill="#fff" font-family='"Liberation Serif", serif' >1.29</text>
<text x="1172.5" y="1059" font-size="54.5" font-weight="bold" text-anchor="start" fill="#fff" font-family='"Liberation Serif", serif' >1.46</text>
<text x="1054" y="890.8" font-size="31" font-weight="bold" fill="#000" stroke="#000" stroke-width="0.35" font-family='"Liberation Sans", sans-serif' transform="matrix(0.9 0 0 1 105.6 0)">H</text><text x="1074.3" y="880.3" font-size="21" font-weight="bold" fill="#000" stroke="#000" stroke-width="0.35" font-family='"Liberation Sans", sans-serif'>+</text><polygon points="1086.3,895 1090.8,895 1100.6,865.3 1096.1,865.3" fill="#000"/><text x="1101" y="890.8" font-size="31" font-weight="bold" fill="#000" stroke="#000" stroke-width="0.35" font-family='"Liberation Sans", sans-serif' transform="matrix(0.9 0 0 1 110.3 0)">H</text><text x="1122" y="898" font-size="22" font-weight="bold" fill="#000" stroke="#000" stroke-width="0.35" font-family='"Liberation Sans", sans-serif'>2</text><text x="981.5" y="952" font-size="31" font-weight="bold" fill="#008000" stroke="#008000" stroke-width="0.35" font-family='"Liberation Sans", sans-serif' transform="matrix(0.9 0 0 1 98.35 0)">H</text><text x="1002" y="952" font-size="31" font-weight="bold" fill="#008000" stroke="#008000" stroke-width="0.35" font-family='"Liberation Sans", sans-serif'>A</text><circle cx="1028" cy="942" r="2.5" fill="#008000"/><polygon points="1032.5,957 1037,957 1047,927 1042.5,927" fill="#008000"/><text x="1047" y="952" font-size="31" font-weight="bold" fill="#008000" stroke="#008000" stroke-width="0.35" font-family='"Liberation Sans", sans-serif' transform="matrix(0.9 0 0 1 104.9 0)">H</text><text x="1068" y="960.5" font-size="22" font-weight="bold" fill="#008000" stroke="#008000" stroke-width="0.35" font-family='"Liberation Sans", sans-serif'>2</text><text x="1079" y="952" font-size="31" font-weight="bold" fill="#008000" stroke="#008000" stroke-width="0.35" font-family='"Liberation Sans", sans-serif'>A</text><text x="1233.3" y="921.1" font-size="31" font-weight="bold" fill="#ed7d31" stroke="#ed7d31" stroke-width="0.35" font-family='"Liberation Sans", sans-serif'>A</text><polygon points="1254.5,926.1 1259,926.1 1268.1,896.2 1263.6,896.2" fill="#ed7d31"/><text x="1268.9" y="921.1" font-size="31" font-weight="bold" fill="#ed7d31" stroke="#ed7d31" stroke-width="0.35" font-family='"Liberation Sans", sans-serif' transform="matrix(0.9 0 0 1 127.09 0)">H</text><text x="1290" y="929.5" font-size="22" font-weight="bold" fill="#ed7d31" stroke="#ed7d31" stroke-width="0.35" font-family='"Liberation Sans", sans-serif'>2</text><text x="1301.3" y="921.1" font-size="31" font-weight="bold" fill="#ed7d31" stroke="#ed7d31" stroke-width="0.35" font-family='"Liberation Sans", sans-serif'>A</text><text x="1155.8" y="976.8" font-size="31" font-weight="bold" fill="#ff0000" stroke="#ff0000" stroke-width="0.35" font-family='"Liberation Sans", sans-serif'>O</text><text x="1178.4" y="985.6" font-size="22" font-weight="bold" fill="#ff0000" stroke="#ff0000" stroke-width="0.35" font-family='"Liberation Sans", sans-serif'>2</text><polygon points="1190,982 1194.5,982 1204.5,951.8 1200,951.8" fill="#ff0000"/><text x="1204.6" y="976.8" font-size="31" font-weight="bold" fill="#ff0000" stroke="#ff0000" stroke-width="0.35" font-family='"Liberation Sans", sans-serif' transform="matrix(0.9 0 0 1 120.66 0)">H</text><text x="1225.6" y="985.6" font-size="22" font-weight="bold" fill="#ff0000" stroke="#ff0000" stroke-width="0.35" font-family='"Liberation Sans", sans-serif'>2</text><text x="1237.5" y="976.8" font-size="31" font-weight="bold" fill="#ff0000" stroke="#ff0000" stroke-width="0.35" font-family='"Liberation Sans", sans-serif'>O</text>
<line x1="797.9" y1="896.7" x2="1349.5" y2="896.7" stroke="#000" stroke-width="2.4" stroke-dasharray="11.7 6.1 2.4 6.58" stroke-dashoffset="3.4"/>
<line x1="797.9" y1="916.6" x2="1349.5" y2="916.6" stroke="#ff8000" stroke-width="2.4" stroke-dasharray="11.7 6.1 2.4 6.58" stroke-dashoffset="0.5"/>
<line x1="797.9" y1="945.5" x2="1349.5" y2="945.5" stroke="#008000" stroke-width="2.4" stroke-dasharray="11.7 6.1 2.4 6.58" stroke-dashoffset="-0.3"/>
<line x1="797.9" y1="987.2" x2="1349.5" y2="987.2" stroke="#ff0000" stroke-width="2.4" stroke-dasharray="11.7 6.1 2.4 6.58" stroke-dashoffset="-0.7"/>
<line x1="789.9" y1="674" x2="797.9" y2="674" stroke="#000" stroke-width="3.4" />
<line x1="793.9" y1="711.15" x2="797.9" y2="711.15" stroke="#000" stroke-width="3.4" />
<line x1="789.9" y1="748.3" x2="797.9" y2="748.3" stroke="#000" stroke-width="3.4" />
<line x1="793.9" y1="785.45" x2="797.9" y2="785.45" stroke="#000" stroke-width="3.4" />
<line x1="789.9" y1="822.6" x2="797.9" y2="822.6" stroke="#000" stroke-width="3.4" />
<line x1="793.9" y1="859.75" x2="797.9" y2="859.75" stroke="#000" stroke-width="3.4" />
<line x1="789.9" y1="896.9" x2="797.9" y2="896.9" stroke="#000" stroke-width="3.4" />
<line x1="793.9" y1="934.05" x2="797.9" y2="934.05" stroke="#000" stroke-width="3.4" />
<line x1="789.9" y1="971.2" x2="797.9" y2="971.2" stroke="#000" stroke-width="3.4" />
<line x1="793.9" y1="1008.35" x2="797.9" y2="1008.35" stroke="#000" stroke-width="3.4" />
<line x1="789.9" y1="1045.5" x2="797.9" y2="1045.5" stroke="#000" stroke-width="3.4" />
<line x1="793.9" y1="1082.65" x2="797.9" y2="1082.65" stroke="#000" stroke-width="3.4" />
<line x1="789.9" y1="1119.8" x2="797.9" y2="1119.8" stroke="#000" stroke-width="3.4" />
<rect x="797.9" y="674.0" width="551.6" height="445.79999999999995" fill="none" stroke="#000" stroke-width="3.4"/>
<text x="783" y="685.8" font-size="37" font-weight="bold" text-anchor="end" fill="#000" font-family='"Liberation Sans", sans-serif' transform="matrix(1 0 0 1.045 0 -30.86)" stroke="#000" stroke-width="0.35" >-3</text>
<text x="783" y="760.1" font-size="37" font-weight="bold" text-anchor="end" fill="#000" font-family='"Liberation Sans", sans-serif' transform="matrix(1 0 0 1.045 0 -34.2)" stroke="#000" stroke-width="0.35" >-2</text>
<text x="783" y="834.4" font-size="37" font-weight="bold" text-anchor="end" fill="#000" font-family='"Liberation Sans", sans-serif' transform="matrix(1 0 0 1.045 0 -37.55)" stroke="#000" stroke-width="0.35" >-1</text>
<text x="783" y="908.7" font-size="37" font-weight="bold" text-anchor="end" fill="#000" font-family='"Liberation Sans", sans-serif' transform="matrix(1 0 0 1.045 0 -40.89)" stroke="#000" stroke-width="0.35" >0</text>
<text x="783" y="983" font-size="37" font-weight="bold" text-anchor="end" fill="#000" font-family='"Liberation Sans", sans-serif' transform="matrix(1 0 0 1.045 0 -44.23)" stroke="#000" stroke-width="0.35" >1</text>
<text x="783" y="1057.3" font-size="37" font-weight="bold" text-anchor="end" fill="#000" font-family='"Liberation Sans", sans-serif' transform="matrix(1 0 0 1.045 0 -47.58)" stroke="#000" stroke-width="0.35" >2</text>
<text x="783" y="1131.6" font-size="37" font-weight="bold" text-anchor="end" fill="#000" font-family='"Liberation Sans", sans-serif' transform="matrix(1 0 0 1.045 0 -50.92)" stroke="#000" stroke-width="0.35" >3</text>
<text transform="translate(718.2 879.9) rotate(-90)" x="0" y="0" font-size="37.9" font-weight="bold" stroke="#000" stroke-width="0.35" text-anchor="middle" font-family='"Liberation Sans", sans-serif'>Potential (V vs SHE)</text>
<text x="822.5" y="1171.8" font-size="38.2" font-weight="bold" text-anchor="start" fill="#000" font-family='"Liberation Sans", sans-serif' transform="matrix(1 0 0 1.045 0 -52.73)" stroke="#000" stroke-width="0.35" >PY-DHBD-COF</text>
<text x="1103.5" y="1171.5" font-size="38.6" font-weight="bold" text-anchor="start" fill="#000" font-family='"Liberation Sans", sans-serif' transform="matrix(1 0 0 1.045 0 -52.72)" stroke="#000" stroke-width="0.35" >PY-BPY-COF</text>
<g id="ones"><g transform="matrix(1 0 0 1.045 0 -8.01)"><rect x="40.91" y="172.70" width="8.21" height="7.48" fill="#fff"/><rect x="54.39" y="172.70" width="7.84" height="7.48" fill="#fff"/></g><g transform="matrix(1 0 0 1.045 0 -4.68)"><rect x="40.91" y="98.78" width="8.21" height="7.48" fill="#fff"/><rect x="54.39" y="98.78" width="7.84" height="7.48" fill="#fff"/></g><g transform="matrix(1 0 0 1.045 0 -20.07)"><rect x="153.54" y="441.44" width="7.01" height="6.76" fill="#fff"/><rect x="164.87" y="441.44" width="6.73" height="6.76" fill="#fff"/></g><g transform="matrix(1 0 0 1.045 0 -24.48)"><rect x="998.06" y="538.72" width="8.21" height="7.48" fill="#fff"/><rect x="1011.54" y="538.72" width="7.84" height="7.48" fill="#fff"/></g><g transform="matrix(1 0 0 1.045 0 -24.48)"><rect x="1077.06" y="538.72" width="8.21" height="7.48" fill="#fff"/><rect x="1090.54" y="538.72" width="7.84" height="7.48" fill="#fff"/></g><g transform="matrix(1 0 0 1.045 0 -21.8)"><rect x="992.88" y="479.04" width="8.34" height="7.56" fill="#fff"/><rect x="1006.61" y="479.04" width="7.96" height="7.56" fill="#fff"/></g><g transform="matrix(1 0 0 1.045 0 -9.55)"><rect x="1181.59" y="206.92" width="8.38" height="7.58" fill="#fff"/><rect x="1195.38" y="206.92" width="7.99" height="7.58" fill="#fff"/></g><g transform="matrix(1 0 0 1.045 0 -9.55)"><rect x="1234.41" y="206.92" width="8.38" height="7.58" fill="#fff"/><rect x="1248.20" y="206.92" width="7.99" height="7.58" fill="#fff"/></g><g transform="matrix(1 0 0 1.045 0 -52.42)"><rect x="668.32" y="1159.72" width="8.21" height="7.48" fill="#fff"/><rect x="681.80" y="1159.72" width="7.84" height="7.48" fill="#fff"/></g><g transform="matrix(1 0 0 1.045 0 -47.3)"><rect x="69.75" y="1045.77" width="8.21" height="7.48" fill="#fff"/><rect x="83.23" y="1045.77" width="7.84" height="7.48" fill="#fff"/></g><g transform="translate(56.1 1013.4) rotate(-90)"><rect x="0.37" y="-5.35" width="8.32" height="7.55" fill="#fff"/><rect x="14.07" y="-5.35" width="7.95" height="7.55" fill="#fff"/></g><g transform="translate(56.1 1013.4) rotate(-90)"><rect x="86.33" y="-5.35" width="8.32" height="7.55" fill="#fff"/><rect x="100.02" y="-5.35" width="7.95" height="7.55" fill="#fff"/></g><g transform="translate(56.1 1013.4) rotate(-90)"><rect x="128.25" y="-16.95" width="8.32" height="7.55" fill="#fff"/><rect x="141.95" y="-16.95" width="7.95" height="7.55" fill="#fff"/></g><g transform="translate(56.1 1013.4) rotate(-90)"><rect x="147.12" y="-16.95" width="8.32" height="7.55" fill="#fff"/><rect x="160.82" y="-16.95" width="7.95" height="7.55" fill="#fff"/></g><g transform="matrix(1 0 0 1.045 0 -37.55)"><rect x="762.75" y="829.12" width="8.21" height="7.48" fill="#fff"/><rect x="776.23" y="829.12" width="7.84" height="7.48" fill="#fff"/></g><g transform="matrix(1 0 0 1.045 0 -44.23)"><rect x="762.75" y="977.72" width="8.21" height="7.48" fill="#fff"/><rect x="776.23" y="977.72" width="7.84" height="7.48" fill="#fff"/></g></g>
</svg></body></html>
